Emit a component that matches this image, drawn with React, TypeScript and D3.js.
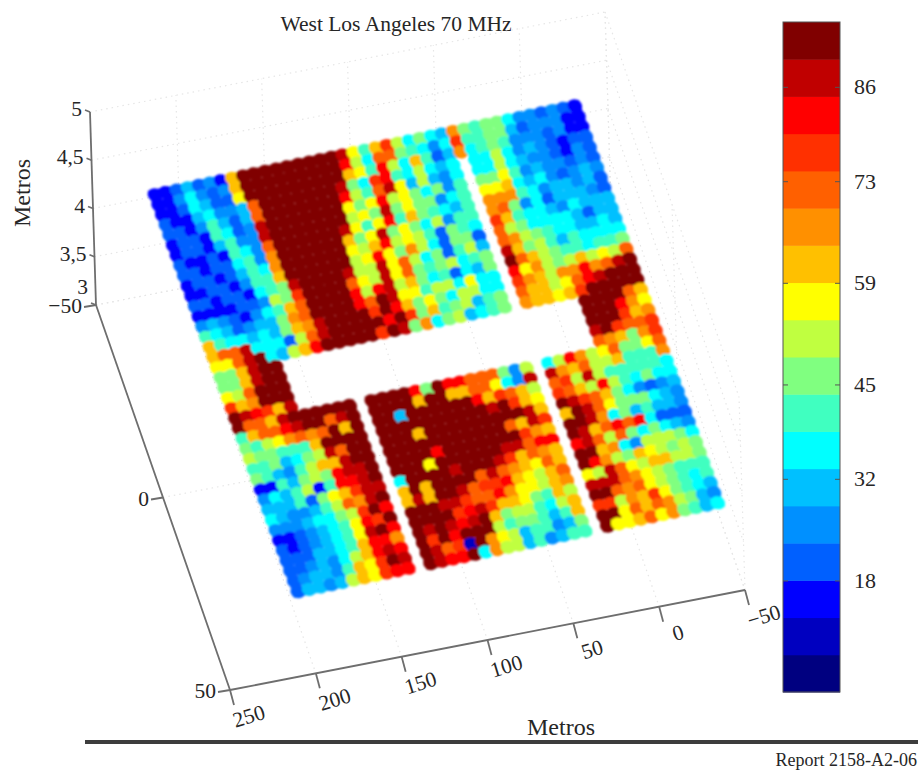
import React from "react";
import * as d3 from "d3";

const __ = null;
const road = Array(27).fill(null);

// signal level, one row per scan line, 39 columns
const row00 = [16,16,21,31,21,26,16,62,93,93, 93,93,93,93,93,93,93,88,57,41, 62,77,51,36,46,36,31,67,46,41, 46,46,36,26,26,21,26,21,16];
const row01 = [16,16,26,36,26,21,26,62,93,93, 93,93,93,93,93,93,93,83,51,36, 72,72,46,41,36,26,36,77,41,41, 46,46,31,21,26,26,26,16,16];
const row02 = [16,16,21,36,31,21,21,57,93,93, 93,93,93,93,93,93,93,62,57,41, 83,51,36,62,41,21,31,67,36,41, 46,41,26,26,26,21,26,16,16];
const row03 = [21,16,16,31,36,26,26,31,72,93, 93,93,93,93,93,93,88,46,36,77, 83,41,36,51,36,31,36,__,36,36, 51,36,26,31,26,21,16,21,21];
const row04 = [21,21,16,26,41,31,21,31,72,93, 93,93,93,93,93,93,83,51,41,72, 88,57,31,51,31,26,36,__,36,36, 51,36,31,26,26,21,16,26,21];
const row05 = [16,21,21,16,41,36,21,26,88,93, 93,93,93,93,93,93,57,46,57,83, 51,57,46,36,46,26,41,__,46,46, 57,41,26,31,26,26,21,26,21];
const row06 = [16,21,21,16,31,41,26,26,88,93, 93,93,93,93,93,93,51,57,46,88, 46,57,46,46,26,36,41,__,57,57, 62,36,31,36,26,21,26,31,26];
const row07 = [21,16,16,21,16,41,36,26,72,93, 93,93,93,93,93,88,57,41,57,83, 41,62,46,41,36,31,41,__,67,67, 67,41,36,26,31,31,26,31,21];
const row08 = [21,21,16,21,21,36,41,26,67,93, 93,93,93,93,93,62,46,57,88,46, 57,46,36,51,26,41,41,__,67,72, 46,26,36,21,31,31,31,26,21];
const row09 = [16,21,21,16,21,31,41,36,67,93, 93,93,93,93,93,57,51,62,83,51, 57,51,41,21,46,41,36,__,77,62, 41,36,36,31,26,36,31,31,31];
const row10 = [16,16,21,21,16,26,41,41,62,93, 93,93,93,93,93,51,57,83,57,46, 67,51,36,21,46,46,21,__,72,51, 46,36,36,36,36,31,21,31,31];
const row11 = [21,21,16,21,21,16,36,41,46,88, 93,93,93,93,88,51,51,88,57,72, 51,36,46,21,41,51,31,__,72,67, 51,46,41,36,36,31,31,36,31];
const row12 = [16,16,16,16,21,21,26,51,46,77, 93,93,93,93,72,57,51,88,57,72, 46,41,46,51,36,41,46,__,88,62, 46,51,41,31,41,36,36,36,36];
const row13 = [26,31,26,21,16,26,36,41,62,72, 93,93,93,93,83,51,83,88,51,62, 46,36,41,21,36,31,46,__,93,72, 62,51,46,41,41,36,41,41,46];
const row14 = [41,36,31,21,26,31,31,46,67,72, 93,93,93,93,83,72,93,88,57,57, 41,51,51,36,57,36,36,__,83,57, 67,51,46,51,62,51,57,51,72];
const row15 = [62,41,36,36,31,36,31,46,62,67, 88,93,93,93,93,77,93,83,62,46, 57,46,36,51,51,36,36,__,77,67, 62,51,67,67,83,67,72,88,93];
const row16 = [62,72,72,88,36,36,36,21,51,72, 88,93,93,93,93,93,83,93,77,46, 62,41,46,51,31,41,46,__,72,62, 62,51,57,72,83,88,93,93,93];
const row17 = [57,57,72,88,93,36,31,51,62,83, 93,93,93,93,93,77,93,88,46,67, 36,46,51,31,36,41,46,__,67,62, 62,57,62,77,93,93,93,93,93];
const row18 = [46,46,62,88,93,93, ...road, 93,93,93,93,72,62];
const row19 = [46,46,62,88,93,93, ...road, 93,93,93,83,67,57];
const row20 = [57,51,72,93,93,93, ...road, 93,93,93,77,62,67];
const row21 = [77,62,67,93,93,93, ...road, 88,93,77,72,72,77];
const row22 = [93,88,83,77,62,88, ...road, 72,67,62,46,67,77];
const row23 = [93,72,72,62,88,93,93,93,93,93,93,__, 93,93,93,93,83,46,93,83,83,72,72,72,46,26,51, __, 36,51,83,67,51,57,72,46,46,57,72];
const row24 = [41,62,72,72,83,88,93,93,72,88,93,__, 93,93,93,93,62,93,93,62,62,72,72,57,36,26,88, __, 88,67,62,72,51,51,62,41,41,41,67];
const row25 = [46,41,51,57,67,72,67,72,93,62,93,__, 93,93,31,93,93,93,93,93,93,83,62,77,72,62,51, __, 72,77,51,88,51,41,41,41,41,41,36];
const row26 = [51,46,46,41,41,41,62,93,93,93,93,__, 93,93,93,93,93,93,93,93,93,93,88,93,77,62,57, __, 77,72,62,51,83,51,41,36,46,36,36];
const row27 = [41,41,46,31,36,46,51,88,72,93,93,__, 93,93,93,62,93,93,93,93,93,93,93,93,93,88,62, __, 93,88,77,72,62,46,36,26,21,26,31];
const row28 = [46,41,31,26,41,51,62,62,88,93,93,__, 93,93,93,93,93,93,93,93,93,93,93,72,62,88,77, __, 62,93,88,72,57,46,46,46,36,31,26];
const row29 = [16,16,41,31,46,51,46,83,88,88,93,__, 93,93,93,93,83,93,93,93,93,93,93,93,77,67,62, __, 93,93,88,67,36,46,31,41,31,31,26];
const row30 = [26,36,31,41,51,16,41,83,83,88,93,__, 93,93,93,57,93,93,93,93,93,93,88,88,72,83,83, __, 93,88,62,72,83,72,83,36,21,21,21];
const row31 = [31,31,31,41,21,46,57,62,77,88,88,__, 36,93,93,93,93,88,93,93,93,88,77,62,72,67,62, __, 83,88,72,51,72,46,36,46,36,31,26];
const row32 = [36,31,26,26,31,41,51,72,67,88,93,__, 62,93,62,93,93,93,93,72,88,72,67,62,57,72,62, __, 93,93,62,67,36,26,51,51,51,46,36];
const row33 = [26,26,26,31,36,36,46,51,77,93,83,__, 62,88,62,93,93,88,72,77,77,83,62,57,51,62,72, __, 93,83,67,51,46,62,57,51,46,51,46];
const row34 = [16,16,21,26,31,36,41,57,83,77,93,__, 93,93,93,88,88,77,72,72,83,67,57,57,51,62,67, __, 57,51,88,72,57,51,62,62,51,51,46];
const row35 = [21,16,21,26,31,36,41,57,88,93,83,__, 93,93,93,93,77,83,88,77,62,62,57,46,41,62,51, __, 88,88,88,72,67,57,51,46,41,41,41];
const row36 = [21,21,21,31,31,36,41,62,83,83,67,__, 93,88,93,88,83,88,93,62,46,51,51,41,36,51,62, __, 93,93,72,67,72,57,51,46,41,36,41];
const row37 = [21,21,26,31,26,36,51,62,83,88,83,__, 93,77,93,83,93,93,93,51,41,46,46,41,31,41,62, __, 77,77,51,67,62,77,57,46,41,36,31];
const row38 = [21,26,31,31,26,41,62,57,77,93,88,__, 93,88,72,77,10,93,67,57,51,31,41,41,26,31,46, __, 93,93,57,72,62,72,67,51,46,31,26];
const row39 = [21,31,31,26,31,51,62,57,77,83,83,__, 93,88,83,83,93,36,67,51,51,31,41,26,31,41,41, __, 93,57,57,62,72,57,67,46,41,31,36];
const rows = [row00,row01,row02,row03,row04,row05,row06,row07,row08,row09,row10,row11,row12,row13,row14,row15,row16,row17,row18,row19,
  row20,row21,row22,row23,row24,row25,row26,row27,row28,row29,row30,row31,row32,row33,row34,row35,row36,row37,row38,row39];

const bandColors = ["#000080","#0000c0","#0000ff","#0060ff","#0090ff","#00c0ff","#00ffff","#40ffc0","#80ff80",
  "#c0ff40","#ffff00","#ffc000","#ff9000","#ff6000","#ff3000","#ff0000","#c00000","#800000"];
const colorTicks = [18, 32, 45, 59, 73, 86];
const xTicks = [250, 200, 150, 100, 50, 0, -50];
const yTicks = [-50, 0, 50];
const zTicks = [3, 3.5, 4, 4.5, 5];

const fx = d3.scaleLinear().domain([250, -50]).range([0, 1]);
const fy = d3.scaleLinear().domain([-50, 50]).range([0, 1]);
const fz = d3.scaleLinear().domain([3, 5]).range([0, 1]);

// the axes box seen from above, corner at x=250 y=-50 z=3
const project = (x: number, y: number, z: number): [number, number] => [
  96 + 515 * fx(x) + 134 * fy(y) - 6 * fz(z),
  305 - 100 * fx(x) + 385 * fy(y) - 193 * fz(z),
];

const level = d3.scaleQuantize<string>().domain([2.7, 95]).range(bandColors);
const barY = d3.scaleLinear().domain([2.7, 95]).range([692, 22]);
const bandY = d3.scaleBand<number>().domain(d3.range(bandColors.length)).range([692, 22]);

// measurement grid in metres, slightly turned against the axes
const gridX = (i: number, j: number) => 213.6 - (246 * i) / 38 - (2.6 * j) / 39;
const gridY = (i: number, j: number) => -50.4 - (1.8 * i) / 38 + (103.3 * j) / 39;
const gridZ = 4;

const cellAt = (i: number, j: number) => project(gridX(i, j), gridY(i, j), gridZ);

const serif = "'Liberation Serif', serif";
const ink = "#262626";
const grid = "#e6e6e6";

const polyline = (pts: [number, number][]) => d3.line()(pts) as string;

export default function App() {
  const [ox, oy] = cellAt(0, 0);
  const [ax, ay] = cellAt(1, 0);
  const [bx, by] = cellAt(0, 1);
  const du = [ax - ox, ay - oy];
  const dv = [bx - ox, by - oy];

  const points = rows.flatMap((row, j) =>
    row.flatMap((value, i) => (value === null ? [] : [{ i, j, value, m: cellAt(i, j) }]))
  );
  const cellMatrix = (m: [number, number]) => `matrix(${du[0]} ${du[1]} ${dv[0]} ${dv[1]} ${m[0]} ${m[1]})`;

  const floorGrid = [
    ...xTicks.map((x) => [project(x, -50, 3), project(x, 50, 3)]),
    ...yTicks.map((y) => [project(250, y, 3), project(-50, y, 3)]),
  ];
  const wallGrid = [
    ...zTicks.map((z) => [project(250, -50, z), project(-50, -50, z)]),
    ...zTicks.map((z) => [project(-50, -50, z), project(-50, 50, z)]),
    ...xTicks.map((x) => [project(x, -50, 3), project(x, -50, 5)]),
    ...yTicks.map((y) => [project(-50, y, 3), project(-50, y, 5)]),
  ];

  return (
    <svg width={918} height={771} style={{ position: "absolute", left: 0, top: 0, display: "block", background: "#fff" }}>
      <defs>
        <filter id="soft" x="-5%" y="-5%" width="110%" height="110%">
          <feGaussianBlur stdDeviation="1.1" />
        </filter>
        <filter id="softLine" x="-5%" y="-5%" width="110%" height="110%">
          <feGaussianBlur stdDeviation="0.6" />
        </filter>
      </defs>

      <text x={396} y={31} textAnchor="middle" fontFamily={serif} fontSize={21.5} fill={ink}>West Los Angeles 70 MHz</text>

      <g fill="none" stroke={grid} strokeWidth={1.2} strokeDasharray="1.5 4">
        {[...floorGrid, ...wallGrid].map((pts, k) => <path key={k} d={polyline(pts as [number, number][])} />)}
      </g>

      <g filter="url(#soft)">
        {points.map((p) => (
          <rect key={`r${p.i}-${p.j}`} x={-0.5} y={-0.5} width={1} height={1} transform={cellMatrix(p.m)} fill={level(p.value)} />
        ))}
        {points.map((p) => (
          <circle key={`c${p.i}-${p.j}`} r={0.63} transform={cellMatrix(p.m)} fill={level(p.value)} />
        ))}
      </g>

      <g fill="none" stroke="#6e6e6e" strokeWidth={1.8} filter="url(#softLine)">
        <path d={polyline([project(250, -50, 3), project(250, -50, 5)])} />
        <path d={polyline([project(250, -50, 3), project(250, 50, 3)])} />
        <path d={polyline([project(250, 50, 3), project(-50, 50, 3)])} />
        {xTicks.map((x) => {
          const [tx, ty] = project(x, 50, 3);
          return <path key={x} d={`M${tx},${ty}L${tx + 4},${ty + 15}`} />;
        })}
        {yTicks.map((y) => {
          const [tx, ty] = project(250, y, 3);
          return <path key={y} d={`M${tx},${ty}L${tx - 12},${ty + 2}`} />;
        })}
        {zTicks.map((z) => {
          const [tx, ty] = project(250, -50, z);
          return <path key={z} d={`M${tx},${ty}L${tx - 5},${ty - 2}`} />;
        })}
      </g>

      <g fontFamily={serif} fontSize={21.5} fill={ink}>
        {xTicks.map((x) => {
          const [tx, ty] = project(x, 50, 3);
          return (
            <text key={x} textAnchor="middle" transform={`translate(${tx + 21},${ty + 33}) rotate(-17)`}>
              {x < 0 ? `\u2212${-x}` : x}
            </text>
          );
        })}
        {yTicks.map((y) => {
          const [tx, ty] = project(250, y, 3);
          return (
            <text key={y} x={tx - 14} y={ty + 8} textAnchor="end">
              {y < 0 ? `\u2212${-y}` : y}
            </text>
          );
        })}
        {zTicks.map((z) => {
          const [tx, ty] = project(250, -50, z);
          return (
            <text key={z} x={tx - 8} y={ty + 4 - (z === 3 ? 15 : 0)} textAnchor="end">
              {String(z).replace(".", ",")}
            </text>
          );
        })}
        <text x={561} y={735} textAnchor="middle" fontSize={24}>Metros</text>
        <text textAnchor="middle" fontSize={24} transform="translate(30,193) rotate(-90)">Metros</text>
      </g>

      <g>
        {bandColors.map((c, k) => (
          <rect key={c} x={783} y={bandY(k)} width={57} height={bandY.bandwidth() + 0.5} fill={c} />
        ))}
        <rect x={783} y={22} width={57} height={670} fill="none" stroke="#555" strokeWidth={1} />
        {colorTicks.map((t) => (
          <g key={t}>
            <path d={`M783,${barY(t)}h5M840,${barY(t)}h-5`} stroke="#555" />
            <text x={854} y={barY(t) + 7} fontFamily={serif} fontSize={22} fill={ink}>{t}</text>
          </g>
        ))}
      </g>

      <rect x={85} y={740} width={833} height={4} fill="#3d3d3d" filter="url(#softLine)" />
      <text x={917} y={766} textAnchor="end" fontFamily={serif} fontSize={18} fill={ink}>Report 2158-A2-06</text>
    </svg>
  );
}
